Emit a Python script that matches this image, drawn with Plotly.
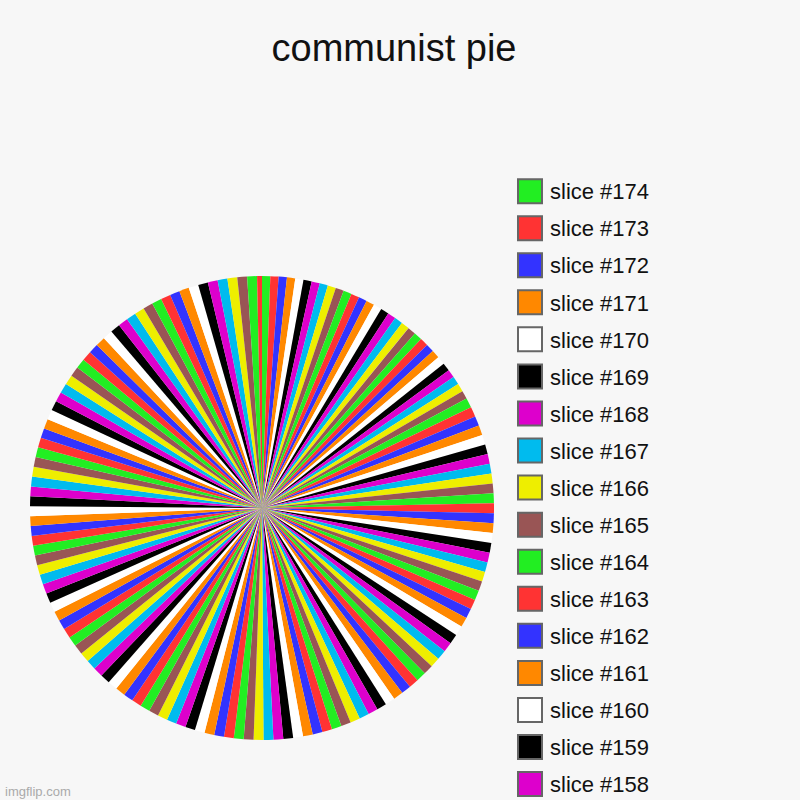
import plotly.graph_objects as go

# slices run from #174 down to #23 (the last one is only a sliver at 12 o'clock)
slice_numbers = list(range(174, 22, -1))
slice_labels = ["slice #%d" % n for n in slice_numbers]

# shares: the first 30 wedges (#174..#145) are a bit narrower
slice_shares = [
    0.84, 0.84, 0.84, 0.84, 0.84, 0.84, 0.84, 0.84, 0.84, 0.84,
    0.84, 0.84, 0.84, 0.84, 0.84, 0.84, 0.84, 0.84, 0.84, 0.84,
    0.84, 0.84, 0.84, 0.84, 0.84, 0.84, 0.84, 0.84, 0.84, 0.84,
    1, 1, 1, 1, 1, 1, 1, 1, 1, 1,
    1, 1, 1, 1, 1, 1, 1, 1, 1, 1,
    1, 1, 1, 1, 1, 1, 1, 1, 1, 1,
    1, 1, 1, 1, 1, 1, 1, 1, 1, 1,
    1, 1, 1, 1, 1, 1, 1, 1, 1, 1,
    1, 1, 1, 1, 1, 1, 1, 1, 1, 1,
    1, 1, 1, 1, 1, 1, 1, 1, 1, 1,
    1, 1, 1, 1, 1, 1, 1, 1, 1, 1,
    1, 1, 1, 1, 1, 1, 1, 1, 1, 1,
    1, 1, 1, 1, 1, 1, 1, 1, 1, 1,
    1, 1, 1, 1, 1, 1, 1, 1, 1, 1,
    1, 1, 1, 1, 1, 1, 1, 1, 1, 1,
    1, 0.5,
]

# colour cycle keyed on the last digit of the slice number
palette = {
    1: "#ff8800",  # orange
    2: "#3333ff",  # blue
    3: "#ff3333",  # red
    4: "#22ee22",  # green
    5: "#995555",  # brown
    6: "#eeee00",  # yellow
    7: "#00bbee",  # cyan
    8: "#dd00cc",  # magenta
    9: "#000000",  # black
    0: "#ffffff",  # white
}
slice_colors = [palette[n % 10] for n in slice_numbers]

FONT = "Liberation Sans, Arial, Helvetica, sans-serif"

# legend font is larger only to get the row spacing; the visible text is 22px
legend_text = ["<span style='font-size:22px'>%s</span>" % s for s in slice_labels]

fig = go.Figure(
    go.Pie(
        labels=legend_text,
        values=slice_shares,
        marker=dict(colors=slice_colors, line=dict(width=0)),
        sort=False,
        direction="clockwise",
        rotation=0,
        textinfo="none",
        hoverinfo="label+percent",
        domain=dict(x=[30 / 800, 494 / 800], y=[1 - 740 / 800, 1 - 276 / 800]),
    )
)

fig.update_layout(
    width=800,
    height=800,
    paper_bgcolor="#f7f7f7",
    plot_bgcolor="#f7f7f7",
    margin=dict(l=0, r=0, t=0, b=0, autoexpand=False),
    font=dict(family=FONT, color="#111111"),
    title=dict(
        text="communist pie",
        x=0.4925,
        xanchor="center",
        y=0.940,
        yanchor="middle",
        yref="container",
        font=dict(family=FONT, size=38, color="#111111"),
    ),
    legend=dict(
        x=0.6375,
        xanchor="left",
        y=0.793,
        yanchor="top",
        font=dict(family=FONT, size=26.2, color="#111111"),
        bgcolor="rgba(0,0,0,0)",
        maxheight=8000,
    ),
    annotations=[
        dict(
            text="imgflip.com",
            x=0.004,
            xanchor="left",
            y=1 - 791 / 800,
            yanchor="middle",
            xref="paper",
            yref="paper",
            showarrow=False,
            font=dict(family=FONT, size=13, color="#aaaaaa"),
        )
    ],
)

# full-bleed page, bigger legend swatches with a grey frame
post = """
document.body.style.margin = '0';
document.body.style.overflow = 'hidden';
var gd = document.getElementById('{plot_id}');
function bigSwatches() {
  gd.querySelectorAll('path.legendpie').forEach(function (p) {
    p.setAttribute('transform', 'translate(20,2) scale(2)');
    p.style.stroke = '#666666';
    p.style.strokeWidth = '1px';
  });
}
bigSwatches();
gd.on('plotly_afterplot', bigSwatches);
"""

fig.write_html("out.html", post_script=post, config={"displayModeBar": False})
